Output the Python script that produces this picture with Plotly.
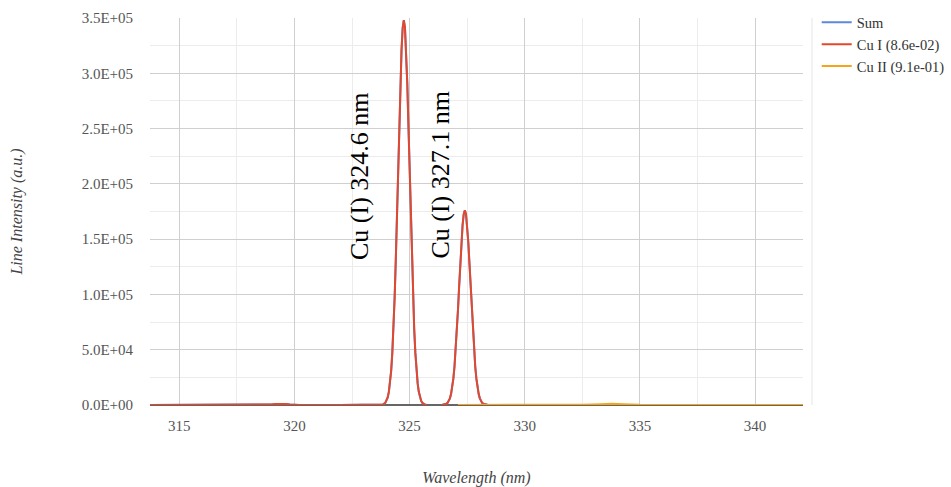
import plotly.graph_objects as go

# ---- data ----
cu1_x = [313.70, 315.00, 317.00, 318.60, 319.00, 319.20, 319.40, 319.60, 319.80, 320.20, 322.00, 323.50,
         323.75, 323.85, 323.95, 324.00, 324.05, 324.10, 324.15, 324.20, 324.25, 324.30, 324.35, 324.40,
         324.45, 324.50, 324.55, 324.60, 324.65, 324.70, 324.75, 324.80, 324.85, 324.90, 324.95, 325.00,
         325.05, 325.10, 325.15, 325.20, 325.25, 325.30, 325.35, 325.40, 325.45, 325.50, 325.55, 325.65,
         325.75,
         None,
         326.40, 326.50, 326.60, 326.65, 326.70, 326.75, 326.80, 326.85, 326.90, 326.95, 327.00, 327.05,
         327.10, 327.15, 327.20, 327.25, 327.30, 327.35, 327.40, 327.45, 327.50, 327.55, 327.60, 327.65,
         327.70, 327.75, 327.80, 327.85, 327.90, 327.95, 328.00, 328.05, 328.10, 328.15, 328.20, 328.30,
         328.40]
cu1_y = [0, 0, 0, 0, 500, 1000, 1200, 1000, 500, 0, 0, 0,
         117, 535, 2080, 3860, 6900, 11900, 19500, 30900, 47100, 68900, 96700, 130600,
         169400, 211100, 252700, 290700, 321200, 341100, 348000, 341100, 321200, 290700, 252700, 211100,
         169400, 130600, 96700, 68900, 47100, 30900, 19500, 11900, 6900, 3860, 2080, 535,
         117,
         None,
         60, 270, 1050, 1950, 3500, 6000, 9900, 15600, 23800, 34800, 48900, 66000,
         85700, 106700, 127800, 147000, 162400, 172500, 176000, 172500, 162400, 147000, 127800, 106700,
         85700, 66000, 48900, 34800, 23800, 15600, 9900, 6000, 3500, 1950, 1050, 270,
         60]

cu2_x = [327.10, 329.00, 331.00, 332.50, 333.30, 333.80, 334.30, 335.00, 337.00, 339.00, 342.10]
cu2_y = [0, 0, 100, 300, 700, 1100, 700, 300, 100, 0, 0]

sum_x = cu1_x
sum_y = cu1_y

y_tickvals = [0, 50000, 100000, 150000, 200000, 250000, 300000, 350000]
y_ticktext = ["0.0E+00", "5.0E+04", "1.0E+05", "1.5E+05", "2.0E+05", "2.5E+05", "3.0E+05", "3.5E+05"]

names = ["Sum", "Cu I (8.6e-02)", "Cu II (9.1e-01)"]
colors = ["#5b88d9", "#e2482c", "#f7a41d"]

labels = ["Cu (I) 324.6 nm", "Cu (I) 327.1 nm"]
label_x = [322.8, 326.3]
label_y = [207000, 208000]

FONT = "Liberation Serif, Times New Roman, serif"

fig = go.Figure()
for xs, ys, n, c in [(sum_x, sum_y, names[0], colors[0]),
                     (cu1_x, cu1_y, names[1], colors[1]),
                     (cu2_x, cu2_y, names[2], colors[2])]:
    fig.add_trace(go.Scatter(x=xs, y=ys, name=n, mode="lines", cliponaxis=False,
                             line=dict(color=c, width=2), connectgaps=False))

for t, x, y in zip(labels, label_x, label_y):
    fig.add_annotation(x=x, y=y, xref="x", yref="y", text=t, showarrow=False,
                       textangle=-90, font=dict(family=FONT, size=26, color="#000000"))

# legend separator
fig.add_shape(type="line", xref="paper", yref="paper", x0=1.0138, x1=1.0138, y0=0, y1=1,
              line=dict(color="#e6e6e6", width=1))

fig.update_layout(
    width=951, height=487,
    margin=dict(l=150, r=148, t=18, b=82, autoexpand=False),
    paper_bgcolor="white", plot_bgcolor="white",
    font=dict(family=FONT, size=15, color="#555555"),
    showlegend=True,
    legend=dict(x=1.021, y=1.03, xanchor="left", yanchor="top",
                font=dict(family=FONT, size=14.5, color="#333333"),
                tracegroupgap=0, itemwidth=30, bgcolor="rgba(0,0,0,0)"),
    xaxis=dict(range=[313.73, 342.08], tick0=315, dtick=5, showgrid=True,
               gridcolor="#cfcfcf", gridwidth=1, zeroline=False, showline=False,
               ticks="", ticklabelstandoff=10,
               tickfont=dict(family=FONT, size=15, color="#555555"),
               minor=dict(dtick=2.5, tick0=315, showgrid=True, gridcolor="#ececec", gridwidth=1),
               title=dict(text="<i>Wavelength (nm)</i>", standoff=44,
                          font=dict(family=FONT, size=16, color="#444444"))),
    yaxis=dict(range=[0, 350000], tickmode="array", tickvals=y_tickvals, ticktext=y_ticktext,
               showgrid=True, gridcolor="#cfcfcf", gridwidth=1,
               zeroline=True, zerolinecolor="#666666", zerolinewidth=1.5,
               showline=False, ticks="", ticklabelstandoff=16,
               tickfont=dict(family=FONT, size=15, color="#555555"),
               minor=dict(dtick=25000, tick0=0, showgrid=True, gridcolor="#ececec", gridwidth=1),
               title=dict(text="<i>Line Intensity (a.u.)</i>", standoff=55,
                          font=dict(family=FONT, size=16, color="#444444"))),
)

fig.write_html("out.html")
